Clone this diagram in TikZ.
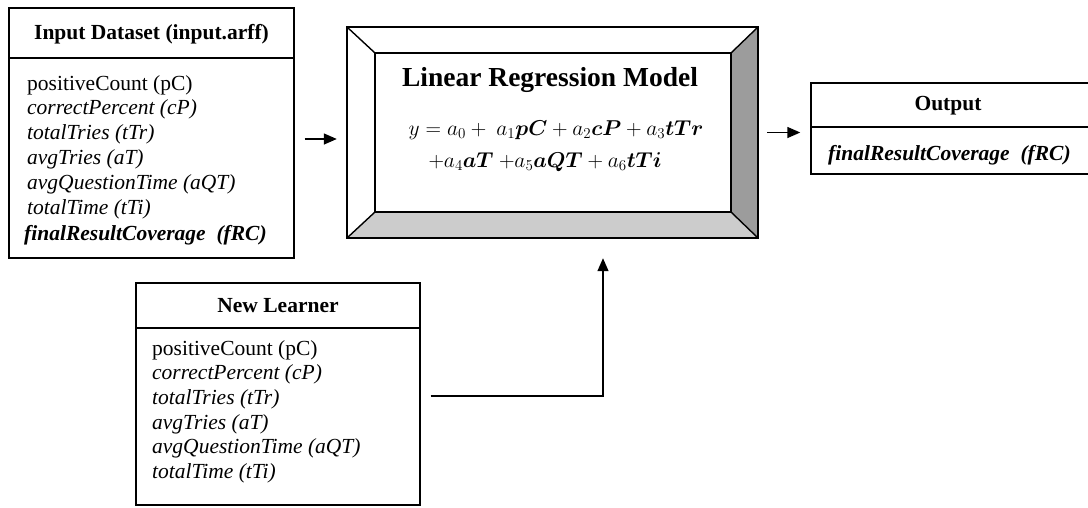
\RequirePackage{fix-cm}
\documentclass[tikz,border=0pt]{standalone}
\usepackage{amsmath,amsbsy}
\usepackage{fontspec}
\setmainfont{Liberation Serif}
\usetikzlibrary{arrows.meta,calc}
\begin{document}
\begin{tikzpicture}[x=1pt,y=-1pt,
  box/.style={draw, line width=1.4pt, inner sep=0pt, rectangle},
  divline/.style={line width=1.4pt},
  ttl/.style={font=\fontsize{21.5}{24}\selectfont\bfseries, inner sep=0pt, anchor=base},
  itm/.style={font=\fontsize{21.5}{24}\selectfont, inner sep=0pt, anchor=base west},
  arr/.style={line width=1.4pt, -{Triangle[length=13pt,width=11pt]}},
  bev/.style={line width=1.4pt, line join=miter},
  eqn/.style={inner sep=0pt, anchor=base, font=\fontsize{21.5}{26}\selectfont}
]
\clip (0,0) rectangle (1088,507);
\useasboundingbox (0,0) rectangle (1088,507);
\fill[white] (0,0) rectangle (1088,507);

% Input dataset box
\node[box, minimum width=285pt, minimum height=250pt] (in) at (151.5,133) {};
\draw[divline] (in.west |- 0,58) -- (in.east |- 0,58);
\node[ttl] (intitle) at (151.5,39) {Input Dataset (input.arff)};
\node[itm] (in1) at (27,90) {positiveCount (pC)};
\node[itm] (in2) at (27,114.8) {\itshape correctPercent (cP)};
\node[itm] (in3) at (27,139.6) {\itshape totalTries (tTr)};
\node[itm] (in4) at (27,164.4) {\itshape avgTries (aT)};
\node[itm] (in5) at (27,189.2) {\itshape avgQuestionTime (aQT)};
\node[itm] (in6) at (27,214) {\itshape totalTime (tTi)};
\node[itm] (in7) at (24,240) {\bfseries\itshape finalResultCoverage\ \ (fRC)};

% Bevel model box
\coordinate (o1) at (347,27);
\coordinate (o2) at (758,27);
\coordinate (o3) at (758,238);
\coordinate (o4) at (347,238);
\coordinate (i1) at (375,53);
\coordinate (i2) at (731,53);
\coordinate (i3) at (731,212);
\coordinate (i4) at (375,212);
\fill[white] (o1) rectangle (o3);
\fill[gray!78] (i2) -- (o2) -- (o3) -- (i3) -- cycle;
\fill[gray!40] (i4) -- (i3) -- (o3) -- (o4) -- cycle;
\draw[bev] (o1) rectangle (o3);
\draw[bev] (i1) rectangle (i3);
\draw[bev] (o1) -- (i1) (o2) -- (i2) (o3) -- (i3) (o4) -- (i4);
\node[inner sep=0pt, minimum width=411pt, minimum height=211pt] (model) at (552.5,132.5) {};
\node[inner sep=0pt, anchor=base, font=\fontsize{27.5}{30}\selectfont\bfseries] (mtitle) at (550,86) {Linear Regression Model};
\node[eqn] (eq1) at (556,135)
  {$y = a_0 +\ a_1\boldsymbol{pC} + a_2\boldsymbol{cP} + a_3\boldsymbol{tTr}$};
\node[eqn] (eq2) at (545,167)
  {${+}a_4\boldsymbol{aT}\ {+}a_5\boldsymbol{aQT} + a_6\boldsymbol{tTi}$};

% Output box
\node[box, minimum width=281pt, minimum height=91pt] (out) at (951.5,128.5) {};
\draw[divline] (out.west |- 0,127) -- (out.east |- 0,127);
\node[ttl] (outtitle) at (948,110) {Output};
\node[itm] (out1) at (828,160) {\bfseries\itshape finalResultCoverage\ \ (fRC)};

% New learner box
\node[box, minimum width=284pt, minimum height=222pt] (nl) at (278,394) {};
\draw[divline] (nl.west |- 0,328) -- (nl.east |- 0,328);
\node[ttl] (nltitle) at (278,312) {New Learner};
\node[itm] (nl1) at (152,355) {positiveCount (pC)};
\node[itm] (nl2) at (152,379.7) {\itshape correctPercent (cP)};
\node[itm] (nl3) at (152,404.4) {\itshape totalTries (tTr)};
\node[itm] (nl4) at (152,429.1) {\itshape avgTries (aT)};
\node[itm] (nl5) at (152,453.8) {\itshape avgQuestionTime (aQT)};
\node[itm] (nl6) at (152,478.5) {\itshape totalTime (tTi)};

% Connectors
\draw[arr] ([xshift=10pt,yshift=-6pt]in.east) -- ([xshift=-10pt,yshift=-6.5pt]model.west);
\draw[arr] ([xshift=9pt]model.east) -- ([xshift=-10pt]out.west |- model.east);
\draw[arr, shorten >=20pt] ([xshift=10pt,yshift=-2pt]nl.east) -| ([xshift=50.5pt]model.south);
\end{tikzpicture}
\end{document}
